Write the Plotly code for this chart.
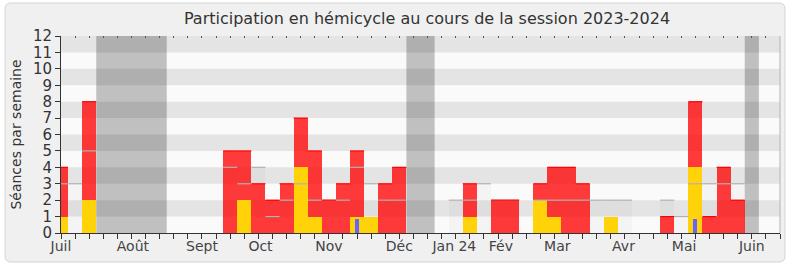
import plotly.graph_objects as go

# ---------------- data ----------------
weeks = list(range(52))
presences = [4, 0, 8, 0, 0, 0, 0, 0, 0, 0, 0, 0, 5, 5, 3, 2, 3, 7, 5, 2,
             3, 5, 0, 3, 4, 0, 0, 0, 0, 3, 0, 2, 2, 0, 3, 4, 4, 3, 0, 0,
             0, 0, 0, 1, 0, 8, 1, 4, 2, 0, 0, 0]
participations = [1, 0, 2, 0, 0, 0, 0, 0, 0, 0, 0, 0, 0, 2, 0, 0, 0, 4, 1, 0,
                   0, 1, 1, 0, 0, 0, 0, 0, 0, 1, 0, 0, 0, 0, 2, 1, 0, 0, 0, 1,
                   0, 0, 0, 0, 0, 4, 0, 0, 0, 0, 0, 0]
questions = [0] * 21 + [0.85] + [0] * 23 + [0.85] + [0] * 6
mediane = [3, 3, 5, 0, 0, 0, 0, 0, 0, 0, 0, 0, 4, 3, 4, 1, 2, 3, 2, 2,
           2, 4, 3, 2, 2, 0, 0, 0, 2, 2, 3, 2, 2, 0, 2, 2, 2, 2, 2, 2,
           2, 0, 0, 2, 1, 3, 3, 3, 3, 0, 0, 0]
vacances = [3, 4, 5, 6, 7, 25, 26, 49]
month_labels = ["Juil", "Août", "Sept", "Oct", "Nov", "Déc", "Jan 24", "Fév",
                "Mar", "Avr", "Mai", "Juin"]
month_pos = [0, 5.1, 10, 14.15, 19, 24, 27.9, 31.2, 35.2, 39.9, 44.2, 49]
y_ticks = list(range(13))

# ---------------- styles ----------------
FONT = "DejaVu Sans"
RED = "rgba(255,0,0,0.77)"
YELLOW = "rgb(255,210,10)"
BLUE = "rgb(102,102,255)"


def top_segments(values):
    xs, ys = [], []
    for w, v in zip(weeks, values):
        if v > 0:
            xs += [w - 0.5, w + 0.5, None]
            ys += [v, v, None]
    return xs, ys


fig = go.Figure()

# median presence (light bars + grey top line)
fig.add_trace(go.Bar(x=weeks, y=mediane, width=1, marker_color="rgba(0,0,0,0.022)",
                     marker_line_width=0, hoverinfo="skip", showlegend=False))
mx, my = top_segments(mediane)
fig.add_trace(go.Scatter(x=mx, y=my, mode="lines", line=dict(color="#b2b2b2", width=1.2),
                         hoverinfo="skip", showlegend=False))
# presences
fig.add_trace(go.Bar(x=weeks, y=presences, width=1, marker_color=RED,
                     marker_line_width=0, showlegend=False))
rx, ry = top_segments(presences)
fig.add_trace(go.Scatter(x=rx, y=ry, mode="lines", line=dict(color="rgb(255,0,0)", width=1.2),
                         hoverinfo="skip", showlegend=False))
# participations
fig.add_trace(go.Bar(x=weeks, y=participations, width=1, marker_color=YELLOW,
                     marker_line_width=0, showlegend=False))
# questions
fig.add_trace(go.Bar(x=weeks, y=questions, width=0.28, marker_color=BLUE,
                     marker_line_width=0, showlegend=False))
# dummy trace for the top tick axis
fig.add_trace(go.Scatter(x=[None], y=[None], xaxis="x2", showlegend=False))

shapes = []
# rounded panel
L, R, T, B = 61, 780, 36, 233
def px(xp):
    return (xp - L) / (R - L)
def py(yp):
    return (B - yp) / (B - T)
x0, x1, y0, y1 = px(5), px(785), py(262), py(3)
rx_, ry_ = 6 / (R - L), 6 / (B - T)
path = (f"M {x0+rx_},{y0} L {x1-rx_},{y0} Q {x1},{y0} {x1},{y0+ry_} "
        f"L {x1},{y1-ry_} Q {x1},{y1} {x1-rx_},{y1} L {x0+rx_},{y1} "
        f"Q {x0},{y1} {x0},{y1-ry_} L {x0},{y0+ry_} Q {x0},{y0} {x0+rx_},{y0} Z")
shapes.append(dict(type="path", xref="paper", yref="paper", path=path,
                   fillcolor="#f0f0f0", line=dict(color="#d4d4d4", width=1), layer="below"))
# plot background
shapes.append(dict(type="rect", xref="x domain", yref="y domain", x0=0, x1=1, y0=0, y1=1,
                   fillcolor="#fafafa", line=dict(width=0), layer="below"))

# vacation periods (grouped runs)
runs = []
for w in vacances:
    if runs and w == runs[-1][1] + 1:
        runs[-1][1] = w
    else:
        runs.append([w, w])
for a, b in runs:
    shapes.append(dict(type="rect", xref="x", yref="y domain", x0=a - 0.5, x1=b + 0.5,
                       y0=0, y1=1, fillcolor="#c0c0c0", line=dict(width=0), layer="below"))
# stripes
for k in range(1, 12, 2):
    shapes.append(dict(type="rect", xref="x domain", yref="y", x0=0, x1=1, y0=k, y1=k + 1,
                       fillcolor="rgba(0,0,0,0.085)", line=dict(width=0), layer="below"))
# right border
shapes.append(dict(type="line", xref="x domain", yref="y domain", x0=1, x1=1, y0=0, y1=1,
                   line=dict(color="#b4b4b4", width=1)))

fig.update_layout(
    width=790, height=267,
    margin=dict(l=61, r=10, t=36, b=34),
    paper_bgcolor="white",
    plot_bgcolor="rgba(0,0,0,0)",
    barmode="overlay",
    bargap=0,
    font=dict(family=FONT, color="#333"),
    title=dict(text="Participation en hémicycle au cours de la session 2023-2024",
               x=427 / 790, xanchor="center", xref="container",
               y=1 - 18 / 267, yanchor="middle", yref="container",
               font=dict(size=16, color="#333", family=FONT)),
    shapes=shapes,
    xaxis=dict(range=[0, 51], tickvals=month_pos, ticktext=month_labels, ticks="",
               showgrid=False, zeroline=False, showline=True, linecolor="#333", linewidth=1,
               tickfont=dict(size=14, color="#444"),
               minor=dict(ticks="outside", dtick=1, tick0=0, ticklen=5, tickcolor="#333",
                          showgrid=False),
               fixedrange=True),
    xaxis2=dict(range=[0, 51], overlaying="x", side="top", ticks="inside", dtick=1, tick0=0,
                ticklen=2, tickcolor="#555", showticklabels=False, showgrid=False,
                zeroline=False, showline=False),
    yaxis=dict(range=[0, 12], tickvals=y_ticks, ticks="outside", ticklen=5, tickcolor="#333",
               showgrid=False, zeroline=False, showline=True, linecolor="#333", linewidth=1,
               tickfont=dict(size=15, color="#333"),
               title=dict(text="Séances par semaine", font=dict(size=14, color="#333"),
                          standoff=8)),
)

fig.write_html("out.html")
